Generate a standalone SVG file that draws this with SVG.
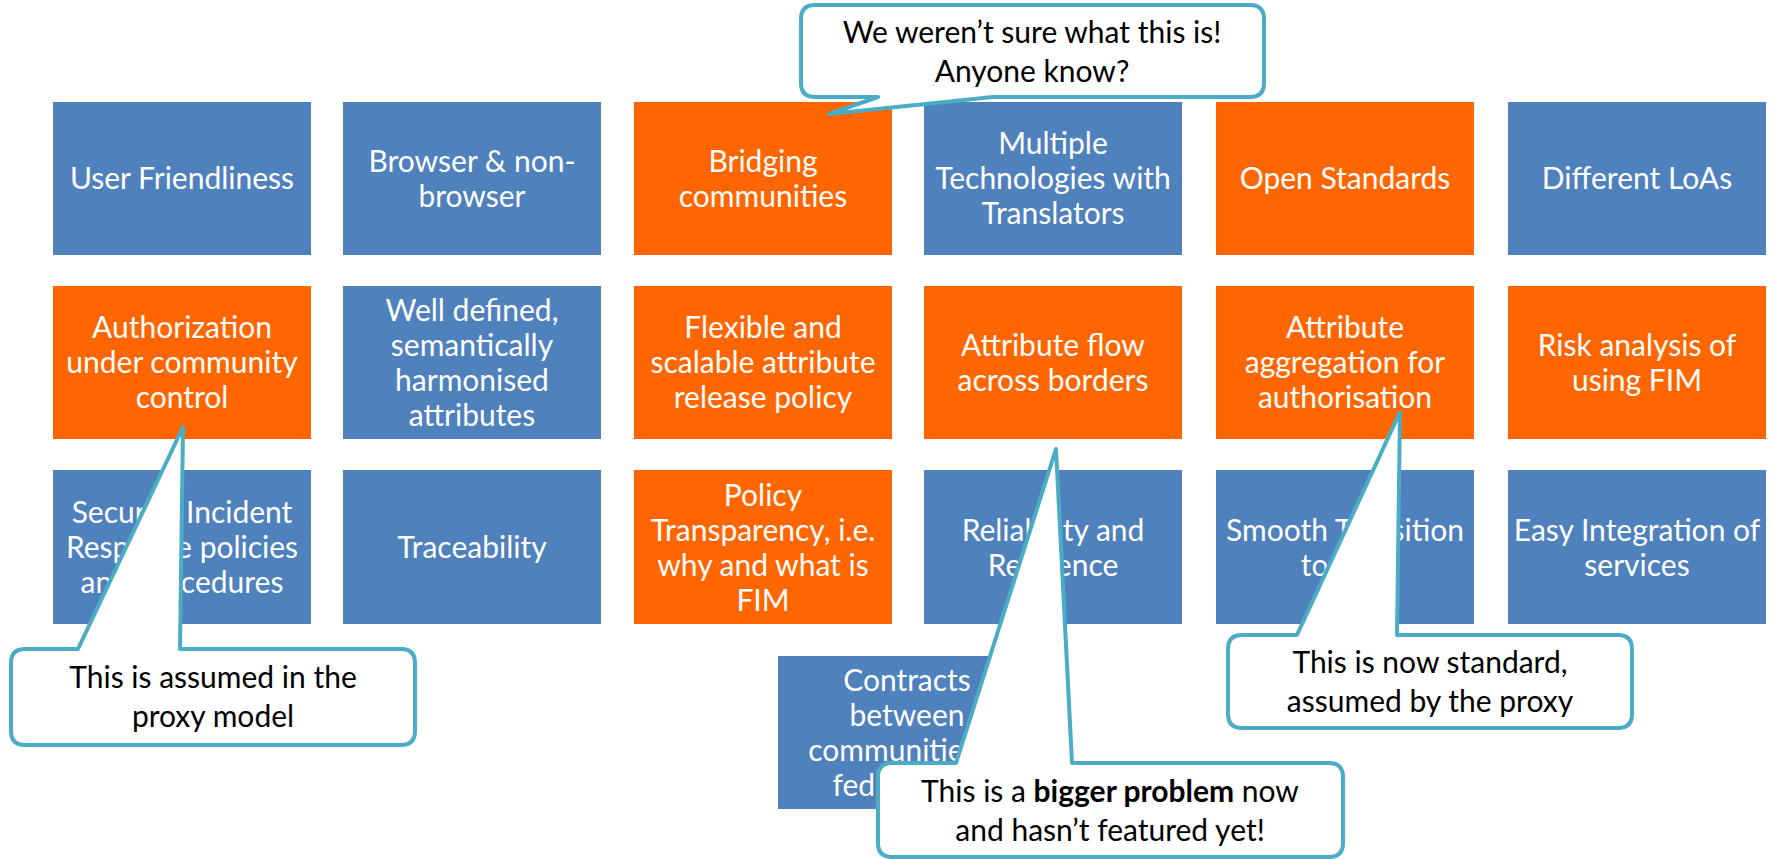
<svg xmlns="http://www.w3.org/2000/svg" width="1772" height="859" viewBox="0 0 1772 859">
<style>
.b{fill:#4F81BD}
.o{fill:#FF6600}
.t{font-family:Lato,"Liberation Sans",sans-serif;font-size:30px;fill:#fff;text-anchor:middle}
.c{fill:#fff;stroke:#4BACC6;stroke-width:4;stroke-linejoin:round}
.ct{font-family:Lato,"Liberation Sans",sans-serif;font-size:30px;fill:#000;text-anchor:middle}
</style>
<rect width="1772" height="859" fill="#fff"/>
<g id="nodes">
<g id="n-user"><rect class="b" x="53" y="102" width="258" height="153"/><text class="t" x="182" y="189">User Friendliness</text></g>
<g id="n-browser"><rect class="b" x="343" y="102" width="258" height="153"/><text class="t" x="472"><tspan x="472" y="172">Browser &amp; non-</tspan><tspan x="472" y="207">browser</tspan></text></g>
<g id="n-bridging"><rect class="o" x="634" y="102" width="258" height="153"/><text class="t"><tspan x="763" y="172">Bridging</tspan><tspan x="763" y="207">communities</tspan></text></g>
<g id="n-multiple"><rect class="b" x="924" y="102" width="258" height="153"/><text class="t"><tspan x="1053" y="154">Multiple</tspan><tspan x="1053" y="189">Technologies with</tspan><tspan x="1053" y="224">Translators</tspan></text></g>
<g id="n-open"><rect class="o" x="1216" y="102" width="258" height="153"/><text class="t" x="1345" y="189">Open Standards</text></g>
<g id="n-loas"><rect class="b" x="1508" y="102" width="258" height="153"/><text class="t" x="1637" y="189">Different LoAs</text></g>

<g id="n-authz"><rect class="o" x="53" y="286" width="258" height="153"/><text class="t"><tspan x="182" y="338">Authorization</tspan><tspan x="182" y="373">under community</tspan><tspan x="182" y="408">control</tspan></text></g>
<g id="n-welldef"><rect class="b" x="343" y="286" width="258" height="153"/><text class="t"><tspan x="472" y="321">Well defined,</tspan><tspan x="472" y="356">semantically</tspan><tspan x="472" y="391">harmonised</tspan><tspan x="472" y="426">attributes</tspan></text></g>
<g id="n-flexible"><rect class="o" x="634" y="286" width="258" height="153"/><text class="t"><tspan x="763" y="338">Flexible and</tspan><tspan x="763" y="373">scalable attribute</tspan><tspan x="763" y="408">release policy</tspan></text></g>
<g id="n-flow"><rect class="o" x="924" y="286" width="258" height="153"/><text class="t"><tspan x="1053" y="356">Attribute flow</tspan><tspan x="1053" y="391">across borders</tspan></text></g>
<g id="n-aggregation"><rect class="o" x="1216" y="286" width="258" height="153"/><text class="t"><tspan x="1345" y="338">Attribute</tspan><tspan x="1345" y="373">aggregation for</tspan><tspan x="1345" y="408">authorisation</tspan></text></g>
<g id="n-risk"><rect class="o" x="1508" y="286" width="258" height="153"/><text class="t"><tspan x="1637" y="356">Risk analysis of</tspan><tspan x="1637" y="391">using FIM</tspan></text></g>

<g id="n-security"><rect class="b" x="53" y="470" width="258" height="154"/><text class="t"><tspan x="182" y="523">Security Incident</tspan><tspan x="182" y="558">Response policies</tspan><tspan x="182" y="593">and procedures</tspan></text></g>
<g id="n-trace"><rect class="b" x="343" y="470" width="258" height="154"/><text class="t" x="472" y="558">Traceability</text></g>
<g id="n-policy"><rect class="o" x="634" y="470" width="258" height="154"/><text class="t"><tspan x="763" y="506">Policy</tspan><tspan x="763" y="541">Transparency, i.e.</tspan><tspan x="763" y="576">why and what is</tspan><tspan x="763" y="611">FIM</tspan></text></g>
<g id="n-reliability"><rect class="b" x="924" y="470" width="258" height="154"/><text class="t"><tspan x="1053" y="541">Reliability and</tspan><tspan x="1053" y="576">Resilience</tspan></text></g>
<g id="n-smooth"><rect class="b" x="1216" y="470" width="258" height="154"/><text class="t"><tspan x="1345" y="541">Smooth Transition</tspan><tspan x="1345" y="576">to FIM</tspan></text></g>
<g id="n-easy"><rect class="b" x="1508" y="470" width="258" height="154"/><text class="t"><tspan x="1637" y="541">Easy Integration of</tspan><tspan x="1637" y="576">services</tspan></text></g>

<g id="n-contracts"><rect class="b" x="778" y="656" width="258" height="153"/><text class="t"><tspan x="907" y="691">Contracts</tspan><tspan x="907" y="726">between</tspan><tspan x="907" y="761">communities &amp;</tspan><tspan x="907" y="796">federations</tspan></text></g>
</g>
<g id="connectors"></g>
<g id="callouts">
<g id="callout-unsure"><path class="c" d="M815,5 H1250 Q1264,5 1264,19 V83 Q1264,97 1250,97 H993 L829,114 L878,97 H815 Q801,97 801,83 V19 Q801,5 815,5 Z"/><text class="ct"><tspan x="1032" y="43">We weren’t sure what this is!</tspan><tspan x="1032" y="82">Anyone know?</tspan></text></g>
<g id="callout-assumed"><path class="c" d="M25,649 H78 L183,427 L180,649 H401 Q415,649 415,663 V731 Q415,745 401,745 H25 Q11,745 11,731 V663 Q11,649 25,649 Z"/><text class="ct"><tspan x="213" y="688">This is assumed in the</tspan><tspan x="213" y="727">proxy model</tspan></text></g>
<g id="callout-bigger"><path class="c" d="M892,763 H956 L1056,449 L1072,763 H1329 Q1343,763 1343,777 V843 Q1343,857 1329,857 H892 Q878,857 878,843 V777 Q878,763 892,763 Z"/><text class="ct"><tspan x="1110" y="802">This is a <tspan font-weight="bold">bigger problem</tspan> now</tspan><tspan x="1110" y="841">and hasn’t featured yet!</tspan></text></g>
<g id="callout-standard"><path class="c" d="M1242,635 H1297 L1400,412 L1397,635 H1618 Q1632,635 1632,649 V714 Q1632,728 1618,728 H1242 Q1228,728 1228,714 V649 Q1228,635 1242,635 Z"/><text class="ct"><tspan x="1430" y="673">This is now standard,</tspan><tspan x="1430" y="712">assumed by the proxy</tspan></text></g>
</g>
</svg>
